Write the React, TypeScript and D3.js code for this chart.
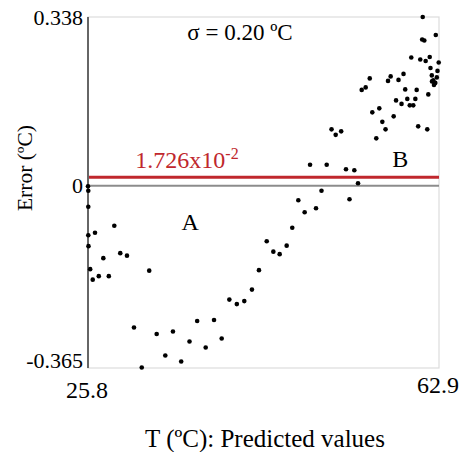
import React, { useRef, useEffect } from "react";
import * as d3 from "d3";

// predicted temperature (x) and error (y)
const tempValues = [
  25.8, 25.83, 25.83, 25.83, 26.54, 28.58, 25.85, 27.42, 29.21, 29.92,
  26.03, 32.27, 26.3, 26.94, 28.0, 30.66, 31.48, 33.06, 33.97, 34.78,
  35.65, 36.53, 37.34, 38.24, 39.12, 39.93, 40.74, 41.53, 42.32, 43.13,
  43.87, 44.69, 45.39, 46.06, 46.8, 47.39, 48.03, 48.7, 49.9, 50.48,
  53.44, 54.34, 49.27, 51.03, 53.07, 53.95,
  51.54, 51.98, 52.56, 56.27, 55.85, 56.59, 56.91, 57.25, 58.11, 54.73,
  55.15, 55.58, 57.51, 57.79, 58.62, 59.15, 59.33, 58.36, 58.94, 59.55,
  59.81, 60.18, 60.4, 60.54, 60.7, 61.66, 61.77, 59.97, 60.92, 61.49,
  61.92, 61.18, 61.12, 61.35, 62.56, 62.87, 62.0, 62.74, 62.14, 62.67,
  62.3, 62.51, 62.37, 62.16,
];
const errorValues = [
  -0.001, -0.01, -0.042, -0.099, -0.094, -0.08, -0.121, -0.145, -0.135, -0.14,
  -0.167, -0.17, -0.188, -0.181, -0.181, -0.284, -0.364, -0.297, -0.34, -0.292,
  -0.352, -0.312, -0.271, -0.324, -0.269, -0.306, -0.228, -0.237, -0.231, -0.208,
  -0.169, -0.111, -0.132, -0.137, -0.12, -0.084, -0.029, -0.053, -0.045, -0.01,
  -0.027, 0.005, 0.042, 0.042, 0.033, 0.031,
  0.113, 0.102, 0.109, 0.095, 0.147, 0.155, 0.128, 0.113, 0.139, 0.192,
  0.197, 0.215, 0.21, 0.219, 0.212, 0.224, 0.193, 0.171, 0.164, 0.174,
  0.161, 0.161, 0.174, 0.192, 0.119, 0.113, 0.183, 0.257, 0.253, 0.25,
  0.258, 0.338, 0.293, 0.291, 0.302, 0.247, 0.236, 0.23, 0.221, 0.217,
  0.211, 0.206, 0.202, 0.209,
];
const xTicks = [25.8, 62.9];
const yTicks = [-0.365, 0, 0.338];
const meanError = 0.01726;

const App = () => {
  const ref = useRef(null);

  useEffect(() => {
    const svg = d3.select(ref.current);
    svg.selectAll("*").remove();

    const margin = { top: 17, right: 23, bottom: 84, left: 88 };
    const width = 462 - margin.left - margin.right;
    const height = 452 - margin.top - margin.bottom;
    const font = "'Liberation Serif', 'Times New Roman', serif";

    const x = d3.scaleLinear().domain([25.8, 62.9]).range([0, width]);
    const y = d3.scaleLinear().domain([-0.365, 0.338]).range([height, 0]);

    const g = svg
      .append("g")
      .attr("transform", `translate(${margin.left},${margin.top})`);

    // light frame
    g.append("rect")
      .attr("width", width)
      .attr("height", height)
      .attr("fill", "none")
      .attr("stroke", "#dcdcdc")
      .attr("stroke-width", 1.2);

    // zero line
    g.append("line")
      .attr("x1", 0)
      .attr("x2", width)
      .attr("y1", y(0))
      .attr("y2", y(0))
      .attr("stroke", "#8c8c8c")
      .attr("stroke-width", 2);

    // mean error line
    g.append("line")
      .attr("x1", 0)
      .attr("x2", width)
      .attr("y1", y(meanError))
      .attr("y2", y(meanError))
      .attr("stroke", "#c0272d")
      .attr("stroke-width", 3);

    // left axis
    g.append("line")
      .attr("x1", 0)
      .attr("x2", 0)
      .attr("y1", 0)
      .attr("y2", height)
      .attr("stroke", "#666")
      .attr("stroke-width", 2);

    // points
    g.selectAll("circle")
      .data(tempValues.map((t, i) => ({ t, e: errorValues[i] })))
      .enter()
      .append("circle")
      .attr("cx", (d) => x(d.t))
      .attr("cy", (d) => y(d.e))
      .attr("r", 2.3)
      .attr("fill", "#000");

    // y tick labels
    g.selectAll(".ytick")
      .data(yTicks)
      .enter()
      .append("text")
      .attr("x", -5)
      .attr("y", (d) => y(d) + (d === 0.338 ? 8 : d === 0 ? 7 : 0))
      .attr("text-anchor", "end")
      .style("font-family", font)
      .style("font-size", "22px")
      .text((d) => (d === 0 ? "0" : String(d)));

    // x tick labels
    g.selectAll(".xtick")
      .data(xTicks)
      .enter()
      .append("text")
      .attr("x", (d) => x(d) - 1)
      .attr("y", (d, i) => height + (i === 0 ? 30 : 25))
      .attr("text-anchor", "middle")
      .style("font-family", font)
      .style("font-size", "24px")
      .text((d) => d.toFixed(1));

    // annotations
    g.append("text")
      .attr("x", 152)
      .attr("y", 23)
      .attr("text-anchor", "middle")
      .style("font-family", font)
      .style("font-size", "23px")
      .text("σ = 0.20 ºC");

    const red = g
      .append("text")
      .attr("x", x(30.8))
      .attr("y", y(meanError) - 9)
      .attr("fill", "#c0272d")
      .style("font-family", font)
      .style("font-size", "24px")
      .text("1.726x10");
    red
      .append("tspan")
      .attr("dy", -9)
      .style("font-size", "16px")
      .text("-2");

    g.append("text")
      .attr("x", x(36.6))
      .attr("y", 213)
      .attr("text-anchor", "middle")
      .style("font-family", font)
      .style("font-size", "24px")
      .text("A");

    g.append("text")
      .attr("x", x(58.8))
      .attr("y", 150)
      .attr("text-anchor", "middle")
      .style("font-family", font)
      .style("font-size", "24px")
      .text("B");

    // axis titles
    svg
      .append("text")
      .attr("x", 265)
      .attr("y", 447)
      .attr("text-anchor", "middle")
      .style("font-family", font)
      .style("font-size", "25px")
      .text("T (ºC): Predicted values");

    svg
      .append("text")
      .attr("transform", "rotate(-90)")
      .attr("x", -168)
      .attr("y", 32)
      .attr("text-anchor", "middle")
      .style("font-family", font)
      .style("font-size", "21.5px")
      .text("Error (ºC)");
  }, []);

  return (
    <svg
      ref={ref}
      width={462}
      height={452}
      style={{ position: "absolute", left: 0, top: 0, background: "#fff" }}
    />
  );
};

export default App;
